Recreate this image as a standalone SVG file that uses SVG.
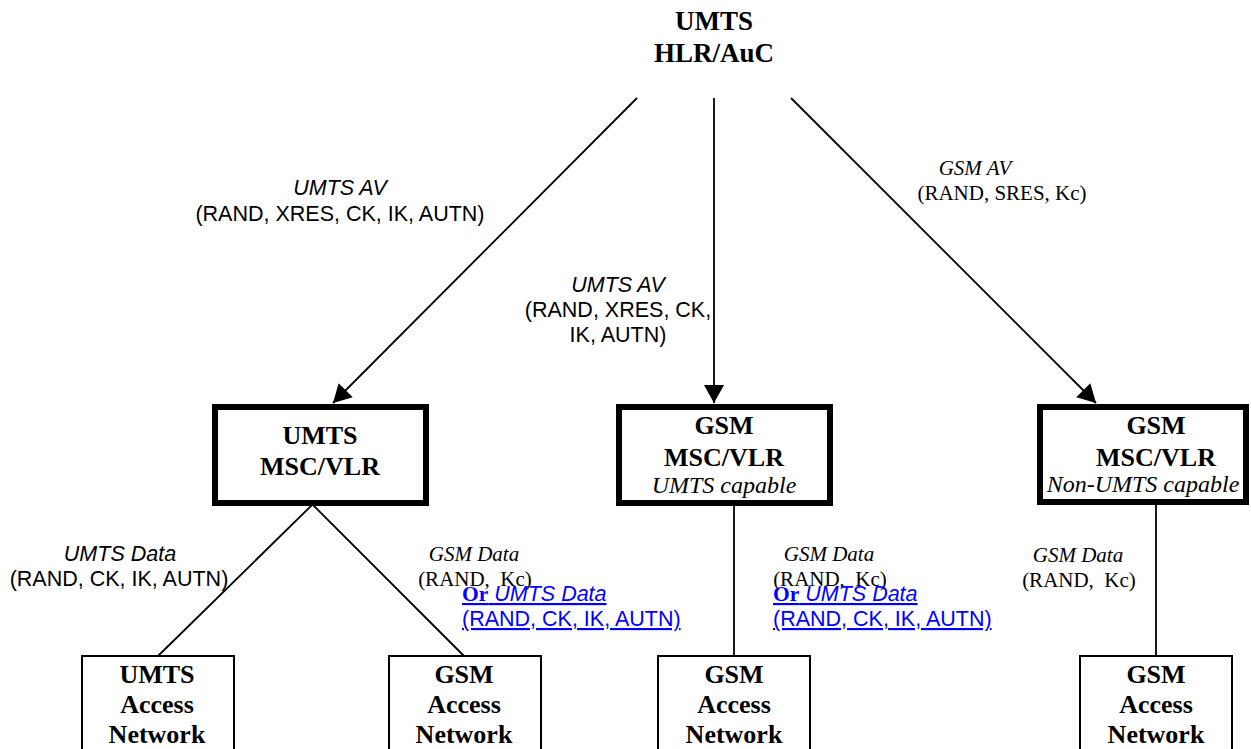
<svg xmlns="http://www.w3.org/2000/svg" width="1251" height="749" viewBox="0 0 1251 749">
<style>
text{white-space:pre}
.b{font-family:"Liberation Serif","Times New Roman",serif;font-weight:bold;font-size:26px;fill:#000;text-anchor:middle}
.ti{font-family:"Liberation Serif","Times New Roman",serif;font-style:italic;font-size:21px;fill:#000;text-anchor:middle}
.tr{font-family:"Liberation Serif","Times New Roman",serif;font-size:21px;fill:#000;text-anchor:middle}
.ai{font-family:"Liberation Sans",Arial,sans-serif;font-style:italic;font-size:21.5px;fill:#000;text-anchor:middle}
.ar{font-family:"Liberation Sans",Arial,sans-serif;font-size:21.5px;fill:#000;text-anchor:middle}
.cap{font-family:"Liberation Serif","Times New Roman",serif;font-style:italic;font-size:24px;fill:#000;text-anchor:middle}
.blue{font-size:21.5px;fill:#0000ff;text-decoration:underline}
.msc{fill:#fff;stroke:#000;stroke-width:6}
.acc{fill:#fff;stroke:#000;stroke-width:2}
.ln{stroke:#000;stroke-width:1.8;fill:none}
</style>
<defs>
<marker id="ah" markerUnits="userSpaceOnUse" markerWidth="20" markerHeight="20" viewBox="0 0 18 20" refX="18" refY="10" orient="auto">
<path d="M0,0 L18,10 L0,20 Z" fill="#000"/>
</marker>
</defs>

<g id="connectors">
<line class="ln" x1="637" y1="98" x2="333" y2="403" marker-end="url(#ah)"/>
<line class="ln" x1="714" y1="98" x2="714" y2="403" marker-end="url(#ah)"/>
<line class="ln" x1="791" y1="98" x2="1096" y2="403" marker-end="url(#ah)"/>
<line class="ln" x1="312" y1="505" x2="158" y2="656"/>
<line class="ln" x1="313" y1="505" x2="464" y2="656"/>
<line class="ln" x1="734" y1="505" x2="734" y2="656"/>
<line class="ln" x1="1156" y1="505" x2="1156" y2="656"/>
</g>

<g id="labels">
<text class="ai" x="340" y="195">UMTS AV</text>
<text class="ar" x="340" y="221">(RAND, XRES, CK, IK, AUTN)</text>
<text class="ai" x="618" y="292">UMTS AV</text>
<text class="ar" x="618" y="317">(RAND, XRES, CK,</text>
<text class="ar" x="618" y="342">IK, AUTN)</text>
<text class="ti" x="975" y="175">GSM AV</text>
<text class="tr" x="1002" y="200">(RAND, SRES, Kc)</text>
<text class="ai" x="120" y="561">UMTS Data</text>
<text class="ar" x="119" y="586">(RAND, CK, IK, AUTN)</text>
<text class="ti" x="474" y="561">GSM Data</text>
<text class="tr" x="475" y="586" xml:space="preserve">(RAND,  Kc)</text>
<text class="blue" x="462" y="601"><tspan font-family="Liberation Serif, Times New Roman, serif" font-weight="bold">Or</tspan><tspan font-family="Liberation Sans, Arial, sans-serif" font-style="italic"> UMTS Data</tspan></text>
<text class="blue" x="462" y="626" font-family="Liberation Sans, Arial, sans-serif">(RAND, CK, IK, AUTN)</text>
<text class="ti" x="829" y="561">GSM Data</text>
<text class="tr" x="830" y="586" xml:space="preserve">(RAND,  Kc)</text>
<text class="blue" x="773" y="601"><tspan font-family="Liberation Serif, Times New Roman, serif" font-weight="bold">Or</tspan><tspan font-family="Liberation Sans, Arial, sans-serif" font-style="italic"> UMTS Data</tspan></text>
<text class="blue" x="773" y="626" font-family="Liberation Sans, Arial, sans-serif">(RAND, CK, IK, AUTN)</text>
<text class="ti" x="1078" y="562">GSM Data</text>
<text class="tr" x="1079" y="587" xml:space="preserve">(RAND,  Kc)</text>
</g>

<g id="hlr">
<text class="b" x="714" y="30" style="font-size:27px">UMTS</text>
<text class="b" x="714" y="62" style="font-size:27px">HLR/AuC</text>
</g>

<g id="umts-msc">
<rect class="msc" x="215" y="407" width="211" height="96"/>
<text class="b" x="320" y="444">UMTS</text>
<text class="b" x="320" y="475">MSC/VLR</text>
</g>

<g id="gsm-msc-umts">
<rect class="msc" x="619" y="407" width="211" height="96"/>
<text class="b" x="724" y="434">GSM</text>
<text class="b" x="724" y="466">MSC/VLR</text>
<text class="cap" x="724" y="493">UMTS capable</text>
</g>

<g id="gsm-msc-non">
<rect class="msc" x="1040" y="407" width="206" height="95"/>
<text class="b" x="1156" y="434">GSM</text>
<text class="b" x="1156" y="466">MSC/VLR</text>
<text class="cap" x="1143" y="492">Non-UMTS capable</text>
</g>

<g id="umts-access">
<rect class="acc" x="82" y="656" width="152" height="120"/>
<text class="b" x="157" y="683">UMTS</text>
<text class="b" x="157" y="713">Access</text>
<text class="b" x="157" y="743">Network</text>
</g>

<g id="gsm-access-1">
<rect class="acc" x="389" y="656" width="152" height="120"/>
<text class="b" x="464" y="683">GSM</text>
<text class="b" x="464" y="713">Access</text>
<text class="b" x="464" y="743">Network</text>
</g>

<g id="gsm-access-2">
<rect class="acc" x="658" y="656" width="152" height="120"/>
<text class="b" x="734" y="683">GSM</text>
<text class="b" x="734" y="713">Access</text>
<text class="b" x="734" y="743">Network</text>
</g>

<g id="gsm-access-3">
<rect class="acc" x="1080" y="656" width="152" height="120"/>
<text class="b" x="1156" y="683">GSM</text>
<text class="b" x="1156" y="713">Access</text>
<text class="b" x="1156" y="743">Network</text>
</g>
</svg>
